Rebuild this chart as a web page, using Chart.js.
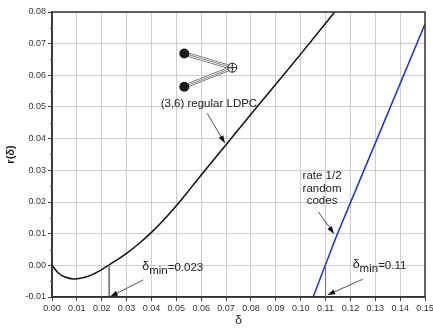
<!DOCTYPE html>
<html lang="en">
<head>
    <meta charset="UTF-8">
    <title>r(δ) for LDPC vs random codes</title>
    <script src="https://cdn.jsdelivr.net/npm/chart.js@4.4.0/dist/chart.umd.min.js"></script>
    <style>
        html, body { margin: 0; padding: 0; background: #fff; }
        #wrap { width: 433px; height: 329px; }
    </style>
</head>
<body>
    <div id="wrap"><canvas id="chart" width="433" height="329"></canvas></div>

    <script>
        // data
        const deltaLdpc = [0, 0.0025, 0.005, 0.0086, 0.012, 0.016, 0.0193, 0.0227, 0.030, 0.035, 0.040, 0.045, 0.050, 0.055, 0.060, 0.070, 0.080, 0.090, 0.100, 0.1137];
        const rLdpc     = [0, -0.0024, -0.0036, -0.0043, -0.0040, -0.0030, -0.0017, 0, 0.0038, 0.0069, 0.0104, 0.0144, 0.0188, 0.0236, 0.0285, 0.0381, 0.0477, 0.0572, 0.0667, 0.0800];

        const deltaRandom = [0.105, 0.1145, 0.1238, 0.15];
        const rRandom     = [-0.01, 0.0094, 0.0269, 0.0762];

        const deltaMin = [0.023, 0.11];

        const xTicks = [0, 0.01, 0.02, 0.03, 0.04, 0.05, 0.06, 0.07, 0.08, 0.09, 0.10, 0.11, 0.12, 0.13, 0.14, 0.15];
        const yTicks = [-0.01, 0, 0.01, 0.02, 0.03, 0.04, 0.05, 0.06, 0.07, 0.08];

        const FONT = '"Liberation Sans", Arial, sans-serif';

        function pts(xs, ys) {
            return xs.map((x, i) => ({ x: x, y: ys[i] }));
        }

        // annotations, placed in data coordinates
        const labels = [
            { text: '(3,6) regular LDPC', x: 0.0631, y: 0.0509 },
            { text: 'rate 1/2', x: 0.1086, y: 0.0282 },
            { text: 'random', x: 0.1086, y: 0.0243 },
            { text: 'codes', x: 0.1086, y: 0.0204 }
        ];
        const minLabels = [
            { value: '=0.023', x: 0.0363, y: -0.0018 },
            { value: '=0.11', x: 0.1209, y: -0.0013 }
        ];
        const arrows = [
            { from: [0.0624, 0.048], to: [0.0696, 0.0385] },
            { from: [0.1071, 0.0169], to: [0.1135, 0.0099] },
            { from: [0.0367, -0.0046], to: [0.0233, -0.0099] },
            { from: [0.1249, -0.0044], to: [0.1107, -0.0094] }
        ];
        const graphIcon = {
            bits: [[0.0532, 0.0669], [0.0532, 0.0564]],
            check: [0.0725, 0.0624]
        };

        function drawArrow(ctx, x1, y1, x2, y2) {
            const a = Math.atan2(y2 - y1, x2 - x1);
            const len = 8, half = 2.6;
            ctx.strokeStyle = '#222';
            ctx.lineWidth = 0.8;
            ctx.beginPath();
            ctx.moveTo(x1, y1);
            ctx.lineTo(x2 - Math.cos(a) * len * 0.8, y2 - Math.sin(a) * len * 0.8);
            ctx.stroke();
            ctx.fillStyle = '#111';
            ctx.beginPath();
            ctx.moveTo(x2, y2);
            ctx.lineTo(x2 - Math.cos(a) * len + Math.sin(a) * half, y2 - Math.sin(a) * len - Math.cos(a) * half);
            ctx.lineTo(x2 - Math.cos(a) * len - Math.sin(a) * half, y2 - Math.sin(a) * len + Math.cos(a) * half);
            ctx.closePath();
            ctx.fill();
        }

        const decor = {
            id: 'decor',
            afterDatasetsDraw(chart) {
                const ctx = chart.ctx;
                const xs = chart.scales.x, ys = chart.scales.y;
                const area = chart.chartArea;
                const px = v => xs.getPixelForValue(v);
                const py = v => ys.getPixelForValue(v);
                ctx.save();

                // frame
                ctx.strokeStyle = '#333';
                ctx.lineWidth = 1.5;
                ctx.strokeRect(area.left, area.top, area.right - area.left, area.bottom - area.top);

                // minor ticks on the y axis
                ctx.lineWidth = 1;
                ctx.strokeStyle = '#555';
                for (let i = 0; i < yTicks.length - 1; i++) {
                    const y = Math.round(py((yTicks[i] + yTicks[i + 1]) / 2)) + 0.5;
                    ctx.beginPath();
                    ctx.moveTo(area.left - 2, y);
                    ctx.lineTo(area.left, y);
                    ctx.stroke();
                }

                // bipartite graph icon
                const c = graphIcon.check;
                const cx = px(c[0]), cy = py(c[1]);
                graphIcon.bits.forEach(b => {
                    const bx = px(b[0]), by = py(b[1]);
                    [[4, '#666'], [2.4, '#fff'], [0.8, '#666']].forEach(s => {
                        ctx.lineWidth = s[0];
                        ctx.strokeStyle = s[1];
                        ctx.beginPath();
                        ctx.moveTo(bx, by);
                        ctx.lineTo(cx, cy);
                        ctx.stroke();
                    });
                });
                graphIcon.bits.forEach(b => {
                    ctx.fillStyle = '#1a1a1a';
                    ctx.beginPath();
                    ctx.arc(px(b[0]), py(b[1]), 5, 0, Math.PI * 2);
                    ctx.fill();
                });
                ctx.fillStyle = '#fff';
                ctx.strokeStyle = '#222';
                ctx.lineWidth = 1;
                ctx.beginPath();
                ctx.arc(cx, cy, 4.5, 0, Math.PI * 2);
                ctx.fill();
                ctx.stroke();
                ctx.beginPath();
                ctx.moveTo(cx - 4.5, cy); ctx.lineTo(cx + 4.5, cy);
                ctx.moveTo(cx, cy - 4.5); ctx.lineTo(cx, cy + 4.5);
                ctx.stroke();

                // text labels
                ctx.fillStyle = '#222';
                ctx.font = '11.5px ' + FONT;
                ctx.textAlign = 'center';
                ctx.textBaseline = 'middle';
                labels.forEach(l => ctx.fillText(l.text, px(l.x), py(l.y)));

                // delta_min labels
                ctx.textAlign = 'left';
                ctx.textBaseline = 'alphabetic';
                minLabels.forEach(l => {
                    let x = px(l.x);
                    const y = py(l.y);
                    ctx.font = '12.5px ' + FONT;
                    ctx.fillText('δ', x, y - 1.5);
                    x += ctx.measureText('δ').width;
                    ctx.font = '11.5px ' + FONT;
                    ctx.fillText('min', x, y + 3);
                    x += ctx.measureText('min').width;
                    ctx.fillText(l.value, x, y);
                });

                // arrows
                arrows.forEach(a => drawArrow(ctx, px(a.from[0]), py(a.from[1]), px(a.to[0]), py(a.to[1])));

                ctx.restore();
            }
        };

        const markerSets = deltaMin.map(d => ({
            data: pts([d, d], [0, -0.01]),
            borderColor: '#777',
            borderWidth: 1,
            pointRadius: 0,
            showLine: true
        }));

        new Chart(document.getElementById('chart'), {
            type: 'scatter',
            data: {
                datasets: [
                    ...markerSets,
                    {
                        label: '(3,6) regular LDPC',
                        data: pts(deltaLdpc, rLdpc),
                        borderColor: '#111',
                        borderWidth: 1.5,
                        pointRadius: 0,
                        showLine: true,
                        cubicInterpolationMode: 'monotone'
                    },
                    {
                        label: 'rate 1/2 random codes',
                        data: pts(deltaRandom, rRandom),
                        borderColor: '#1f2fd8',
                        borderWidth: 1.5,
                        pointRadius: 0,
                        showLine: true
                    }
                ]
            },
            options: {
                responsive: false,
                animation: false,
                events: [],
                layout: { padding: { top: 12, right: 8, left: 0, bottom: 0 } },
                plugins: { legend: { display: false }, tooltip: { enabled: false } },
                scales: {
                    x: {
                        type: 'linear',
                        min: 0,
                        max: 0.15,
                        afterBuildTicks: s => { s.ticks = xTicks.map(v => ({ value: v })); },
                        afterFit: s => { s.paddingLeft = 0; s.paddingRight = 0; s.height = 32; },
                        ticks: {
                            callback: v => v.toFixed(2),
                            font: { family: FONT, size: 9 },
                            color: '#333',
                            padding: 2,
                            maxRotation: 0,
                            autoSkip: false
                        },
                        grid: { color: '#cdcdcd', tickColor: '#444', tickLength: 4, lineWidth: 1 },
                        border: { color: '#333', width: 1.5 },
                        title: {
                            display: true,
                            text: 'δ',
                            font: { family: FONT, size: 12 },
                            color: '#222',
                            padding: { top: 0, bottom: 1 }
                        }
                    },
                    y: {
                        type: 'linear',
                        min: -0.01,
                        max: 0.08,
                        afterBuildTicks: s => { s.ticks = yTicks.map(v => ({ value: v })); },
                        afterFit: s => { s.paddingTop = 0; s.paddingBottom = 0; s.width = 52; },
                        ticks: {
                            callback: v => v.toFixed(2),
                            font: { family: FONT, size: 9 },
                            color: '#333',
                            padding: 2
                        },
                        grid: { color: '#cdcdcd', tickColor: '#444', tickLength: 4, lineWidth: 1 },
                        border: { color: '#333', width: 1.5 },
                        title: {
                            display: true,
                            text: 'r(δ)',
                            font: { family: FONT, size: 11, weight: 'bold' },
                            color: '#222',
                            padding: { top: 4, bottom: 0 }
                        }
                    }
                }
            },
            plugins: [decor]
        });
    </script>
</body>
</html>
